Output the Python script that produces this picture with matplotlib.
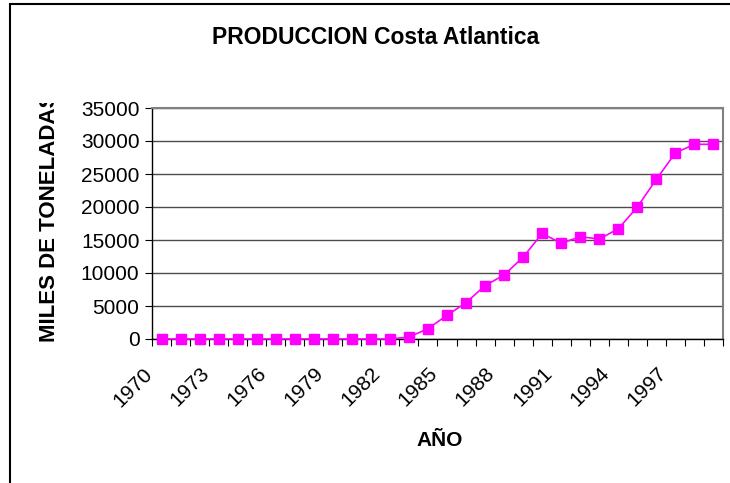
import numpy as np
import matplotlib.pyplot as plt
from matplotlib.patches import Rectangle
from matplotlib.transforms import Bbox, ScaledTranslation
from matplotlib.ticker import FixedLocator, NullFormatter

plt.rcParams['font.family'] = ['Liberation Sans', 'DejaVu Sans']

anios = list(range(1970, 2000))
produccion = [0, 0, 0, 0, 0, 0, 0, 0, 0, 0, 0, 0, 0, 300,
              1560, 3600, 5500, 8100, 9700, 12400, 16000, 14500,
              15500, 15150, 16700, 20000, 24200, 28200, 29500, 29500]
etiquetas = [str(a) for a in anios[::3]]

fig = plt.figure(figsize=(7.3, 4.83), dpi=100)
ax = fig.add_axes([152 / 730, 1 - 339 / 483, (723 - 152) / 730, (339 - 108) / 483])

x = np.arange(len(anios))
ax.plot(x, produccion, color='#FF00FF', lw=1.2, marker='s', ms=7.2,
        mec='#FF00FF', mfc='#FF00FF', clip_on=False, zorder=3)

ax.set_xlim(-0.5, len(anios) - 0.5)
ax.set_ylim(0, 35000)
ax.set_yticks(np.arange(0, 35001, 5000))
ax.yaxis.grid(True, color='#4d4d4d', lw=1)
ax.set_axisbelow(True)

# marcas entre categorias, etiquetas cada tres anos
ax.xaxis.set_major_locator(FixedLocator(np.arange(-0.5, len(anios), 1)))
ax.xaxis.set_major_formatter(NullFormatter())
ax.set_xticks(x[::3], minor=True)
ax.set_xticklabels(etiquetas, minor=True, rotation=45, ha='right', va='top',
                   rotation_mode='anchor', fontsize=15)
ax.tick_params(axis='x', which='major', length=5, direction='out', color='black')
ax.tick_params(axis='x', which='minor', length=0, pad=18)
ax.tick_params(axis='y', length=5, direction='out', labelsize=15, pad=4)

# correr las etiquetas giradas hacia la izquierda (despues de tick_params)
desplazamiento = ScaledTranslation(-0.19, 0, fig.dpi_scale_trans)
for lab in ax.get_xticklabels(minor=True):
    lab.set_transform(lab.get_transform() + desplazamiento)

for lado in ['top', 'right']:
    ax.spines[lado].set_color('#808080')
    ax.spines[lado].set_linewidth(1.5)
for lado in ['left', 'bottom']:
    ax.spines[lado].set_color('black')
    ax.spines[lado].set_linewidth(1)

fig.text(376 / 730, 1 - 37 / 483, 'PRODUCCION Costa Atlantica', ha='center',
         va='center', fontsize=16.5, fontweight='bold')
fig.text(440 / 730, 1 - 440 / 483, 'AÑO', ha='center', va='center',
         fontsize=15, fontweight='bold')
ylab = fig.text(50 / 730, 1 - 342 / 483, 'MILES DE TONELADAS', rotation=90,
                ha='center', va='bottom', fontsize=16, fontweight='bold')
ylab.set_clip_box(Bbox.from_extents(0, 0, 100, 483 - 103))
ylab.set_clip_on(True)

borde = Rectangle((10 / 730, -0.1), 1.2, 1.1 - 4 / 483, transform=fig.transFigure,
                  fill=False, ec='black', lw=1.5)
fig.patches.append(borde)

fig.savefig('out.png', dpi=100)
